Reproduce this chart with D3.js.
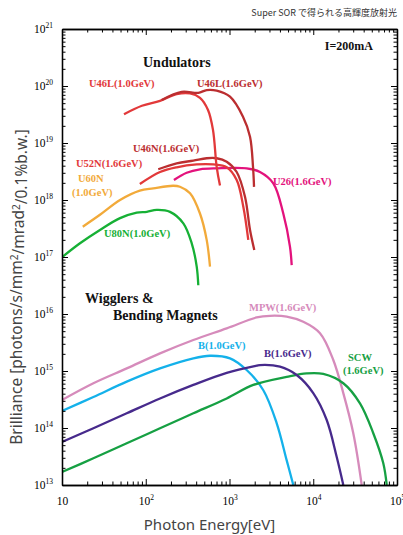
<!DOCTYPE html>
<html>
<head>
<meta charset="utf-8">
<script src="https://cdn.jsdelivr.net/npm/d3@7"></script>
<style>
  body { margin: 0; background: #fff; }
  svg { display: block; }
</style>
</head>
<body>
<svg id="chart" width="403" height="535"></svg>
<script>
// photon energy [eV] and brilliance, one pair of arrays per source
const U46L10_eV = [55, 90, 148, 234, 338, 444, 554, 635, 703, 770];
const U46L10_B  = [3.2e19, 4.5e19, 5.5e19, 7.2e19, 7.4e19, 6.2e19, 3.8e19, 1.7e19, 3.8e18, 1.8e18];
const U46L16_eV = [155, 268, 424, 534, 703, 1014, 1449, 1758, 1909, 1963];
const U46L16_B  = [5.7e19, 7.9e19, 7.6e19, 8.5e19, 8.3e19, 6.5e19, 2.9e19, 1.29e19, 3.8e18, 1.7e18];
const U46N16_eV = [141, 234, 370, 534, 703, 926, 1219, 1531, 1758, 1977];
const U46N16_B  = [3.46e18, 4.4e18, 4.9e18, 5.4e18, 5.4e18, 4.7e18, 3.1e18, 1.14e18, 2.98e17, 1.33e17];
const U52N16_eV = [85, 148, 234, 405, 641, 926, 1219, 1462, 1676];
const U52N16_B  = [1.91e18, 3.1e18, 3.75e18, 4.2e18, 4.2e18, 3.75e18, 2.24e18, 7.6e17, 1.99e17];
const U26_eV    = [217, 308, 444, 703, 1603, 2312, 3334, 4387, 5272, 5529];
const U26_B     = [2.24e18, 3.0e18, 3.46e18, 3.6e18, 3.6e18, 3.1e18, 1.96e18, 5.8e17, 1.52e17, 7.2e16];
const U60N_eV   = [17.7, 28.4, 49.3, 85, 123, 213, 256, 338, 444, 534, 585];
const U60N_B    = [3.4e17, 5.5e17, 1.0e18, 1.46e18, 1.6e18, 1.78e18, 1.71e18, 1.31e18, 5.8e17, 2.0e17, 6.8e16];
const U80N_eV   = [10, 16.4, 28.4, 49.3, 78, 103, 135, 195, 281, 354, 406, 424];
const U80N_B    = [9.9e16, 1.74e17, 2.98e17, 4.8e17, 6.0e17, 6.2e17, 6.7e17, 6.2e17, 3.9e17, 1.74e17, 6.8e16, 3.2e16];

const MPW_eV = [10, 23.7, 59.3, 148, 370, 926, 2113, 3048, 4820, 7606, 12040, 17350, 22850, 30060, 37900];
const MPW_B  = [3.1e14, 6.1e14, 1.11e15, 2.04e15, 3.5e15, 5.6e15, 8.7e15, 9.3e15, 9.0e15, 7.3e15, 4.6e15, 1.56e15, 4.1e14, 8.1e13, 1e13];
const B10_eV = [10, 23.7, 59.3, 148, 370, 585, 1014, 1603, 2535, 3664, 4820, 5780];
const B10_B  = [1.99e14, 3.5e14, 6.5e14, 1.11e15, 1.67e15, 1.85e15, 1.67e15, 1.04e15, 4.6e14, 1.21e14, 2.7e13, 1e13];
const B16_eV = [10, 23.7, 59.3, 148, 370, 926, 2113, 2312, 4008, 6340, 10000, 14480, 19070, 22850];
const B16_B  = [5.7e13, 9.9e13, 1.81e14, 3.3e14, 5.7e14, 9.3e14, 1.24e15, 1.27e15, 1.19e15, 8.5e14, 4.1e14, 1.38e14, 3.1e13, 1e13];
const SCW_eV = [10, 23.7, 59.3, 148, 370, 926, 1923, 4820, 8350, 13180, 22850, 36140, 52100, 68600, 75400];
const SCW_B  = [1.69e13, 2.94e13, 5.4e13, 9.9e13, 1.81e14, 3.3e14, 5.7e14, 7.9e14, 9.1e14, 8.9e14, 6.1e14, 2.7e14, 8.1e13, 2.4e13, 1e13];

const xTicks = [10, 1e2, 1e3, 1e4, 1e5];
const xTickExp = ["", "2", "3", "4", "5"];
const yTicks = [1e13, 1e14, 1e15, 1e16, 1e17, 1e18, 1e19, 1e20, 1e21];
const yTickExp = ["13", "14", "15", "16", "17", "18", "19", "20", "21"];

const series = [
  { eV: U80N_eV,   b: U80N_B,   color: "#16b035" },
  { eV: U60N_eV,   b: U60N_B,   color: "#f2aa3a" },
  { eV: U26_eV,    b: U26_B,    color: "#e3127c" },
  { eV: U52N16_eV, b: U52N16_B, color: "#e2393a" },
  { eV: U46N16_eV, b: U46N16_B, color: "#bb2e30" },
  { eV: U46L10_eV, b: U46L10_B, color: "#e2393a" },
  { eV: U46L16_eV, b: U46L16_B, color: "#bb2e30" },
  { eV: MPW_eV,    b: MPW_B,    color: "#d68bbb" },
  { eV: B10_eV,    b: B10_B,    color: "#14b1ea" },
  { eV: SCW_eV,    b: SCW_B,    color: "#16a043" },
  { eV: B16_eV,    b: B16_B,    color: "#472a8c" }
];

const labels = [
  { t: "U46L(1.0GeV)", x: 89,  y: 87,  c: "#e2393a" },
  { t: "U46L(1.6GeV)", x: 197, y: 87,  c: "#bb2e30" },
  { t: "U46N(1.6GeV)", x: 133, y: 152, c: "#bb2e30" },
  { t: "U52N(1.6GeV)", x: 76,  y: 167, c: "#e2393a" },
  { t: "U60N",         x: 78,  y: 182, c: "#f2aa3a" },
  { t: "(1.0GeV)",     x: 72,  y: 196, c: "#f2aa3a" },
  { t: "U80N(1.0GeV)", x: 104, y: 237, c: "#16b035" },
  { t: "U26(1.6GeV)",  x: 273, y: 185, c: "#e3127c" },
  { t: "MPW(1.6GeV)",  x: 249, y: 311, c: "#d68bbb" },
  { t: "B(1.0GeV)",    x: 198, y: 349, c: "#14b1ea" },
  { t: "B(1.6GeV)",    x: 264, y: 357, c: "#472a8c" },
  { t: "SCW",          x: 348, y: 361, c: "#16a043" },
  { t: "(1.6GeV)",     x: 343, y: 374, c: "#16a043" }
];

const svg = d3.select("#chart");
const margin = { top: 29, right: 6, bottom: 50, left: 62 };
const width = 403 - margin.left - margin.right,
  height = 535 - margin.top - margin.bottom;

const x = d3.scaleLog().domain([10, 1e5]).range([0, width]);
const y = d3.scaleLog().domain([1e13, 1e21]).range([height, 0]);

const g = svg.append("g").attr("transform", "translate(" + margin.left + "," + margin.top + ")");

// minor tick values 2..9 in each decade
const xMinor = [], yMinor = [];
for (let d = 1; d < 5; d++) for (let m = 2; m < 10; m++) xMinor.push(m * Math.pow(10, d));
for (let d = 13; d < 21; d++) for (let m = 2; m < 10; m++) yMinor.push(m * Math.pow(10, d));

svg.append("defs").append("clipPath").attr("id", "plot")
  .append("rect").attr("width", width).attr("height", height);

const line = d3.line()
  .x(d => x(d[0]))
  .y(d => y(d[1]))
  .curve(d3.curveCatmullRom.alpha(0.5));

g.append("g").attr("clip-path", "url(#plot)")
  .selectAll("path")
  .data(series)
  .enter().append("path")
  .attr("d", s => line(s.eV.map((e, i) => [e, s.b[i]])))
  .attr("fill", "none")
  .attr("stroke", s => s.color)
  .attr("stroke-width", 2.3)
  .attr("stroke-linejoin", "round");

function styleAxis(sel) {
  sel.select(".domain").attr("stroke", "#000").attr("stroke-width", 1.3);
  sel.selectAll(".tick line").attr("stroke", "#000").attr("stroke-width", 1);
}

// minor ticks on all four sides
g.append("g").attr("transform", "translate(0," + height + ")")
  .call(d3.axisBottom(x).tickValues(xMinor).tickSize(-3.5).tickSizeOuter(0).tickFormat(""))
  .call(styleAxis);
g.append("g")
  .call(d3.axisTop(x).tickValues(xMinor).tickSize(-3.5).tickSizeOuter(0).tickFormat(""))
  .call(styleAxis);
g.append("g")
  .call(d3.axisLeft(y).tickValues(yMinor).tickSize(-3.5).tickSizeOuter(0).tickFormat(""))
  .call(styleAxis);
g.append("g").attr("transform", "translate(" + width + ",0)")
  .call(d3.axisRight(y).tickValues(yMinor).tickSize(-3.5).tickSizeOuter(0).tickFormat(""))
  .call(styleAxis);

// major ticks
const xAxis = g.append("g").attr("transform", "translate(0," + height + ")")
  .call(d3.axisBottom(x).tickValues(xTicks).tickSize(-6).tickSizeOuter(0).tickPadding(12).tickFormat(""))
  .call(styleAxis);
g.append("g")
  .call(d3.axisTop(x).tickValues(xTicks).tickSize(-6).tickSizeOuter(0).tickFormat(""))
  .call(styleAxis);
const yAxis = g.append("g")
  .call(d3.axisLeft(y).tickValues(yTicks).tickSize(-6).tickSizeOuter(0).tickPadding(9).tickFormat(""))
  .call(styleAxis);
g.append("g").attr("transform", "translate(" + width + ",0)")
  .call(d3.axisRight(y).tickValues(yTicks).tickSize(-6).tickSizeOuter(0).tickFormat(""))
  .call(styleAxis);

function powerLabel(text, exps) {
  text.each(function (d, i) {
    const t = d3.select(this)
      .attr("fill", "#000")
      .attr("font-family", "'Liberation Serif', 'DejaVu Serif', serif")
      .attr("font-size", "11.5px");
    t.append("tspan").text("10");
    if (exps[i]) t.append("tspan").attr("dy", "-0.75em").attr("font-size", "7.5px").text(exps[i]);
  });
}
xAxis.selectAll(".tick text").call(powerLabel, xTickExp);
yAxis.selectAll(".tick text").call(powerLabel, yTickExp);

// curve labels
svg.append("g").selectAll("text")
  .data(labels)
  .enter().append("text")
  .attr("x", d => d.x)
  .attr("y", d => d.y)
  .attr("fill", d => d.c)
  .attr("font-family", "'Liberation Serif', 'DejaVu Serif', serif")
  .attr("font-weight", "bold")
  .attr("font-size", "10.5px")
  .text(d => d.t);

const heads = [
  { t: "Undulators", x: 143, y: 67 },
  { t: "Wigglers &", x: 85, y: 303 },
  { t: "Bending Magnets", x: 113, y: 320 }
];
svg.append("g").selectAll("text")
  .data(heads)
  .enter().append("text")
  .attr("x", d => d.x)
  .attr("y", d => d.y)
  .attr("fill", "#111")
  .attr("font-family", "'Liberation Serif', 'DejaVu Serif', serif")
  .attr("font-weight", "bold")
  .attr("font-size", "14px")
  .text(d => d.t);

svg.append("text")
  .attr("x", 373).attr("y", 50)
  .attr("text-anchor", "end")
  .attr("font-family", "'Liberation Serif', serif")
  .attr("font-weight", "bold")
  .attr("font-size", "12px")
  .attr("fill", "#111")
  .text("I=200mA");

svg.append("text")
  .attr("x", 397).attr("y", 16)
  .attr("text-anchor", "end")
  .attr("font-family", "'Noto Sans CJK JP', sans-serif")
  .attr("font-size", "9px")
  .attr("fill", "#333")
  .text("Super SOR で得られる高輝度放射光");

// axis titles
svg.append("text")
  .attr("x", margin.left + width / 2 - 20).attr("y", 530)
  .attr("text-anchor", "middle")
  .attr("font-family", "'Noto Sans', 'DejaVu Sans', sans-serif")
  .attr("font-size", "15px")
  .attr("fill", "#444")
  .text("Photon Energy[eV]");

const yt = svg.append("text")
  .attr("transform", "translate(22,287) rotate(-90)")
  .attr("text-anchor", "middle")
  .attr("font-family", "'Noto Sans', 'DejaVu Sans', sans-serif")
  .attr("font-size", "15.5px")
  .attr("fill", "#444");
yt.append("tspan").text("Brilliance [photons/s/mm");
yt.append("tspan").attr("dy", "-0.45em").attr("font-size", "10px").text("2");
yt.append("tspan").attr("dy", "0.45em").text("/mrad");
yt.append("tspan").attr("dy", "-0.45em").attr("font-size", "10px").text("2");
yt.append("tspan").attr("dy", "0.45em").text("/0.1%b.w.]");
</script>
</body>
</html>
